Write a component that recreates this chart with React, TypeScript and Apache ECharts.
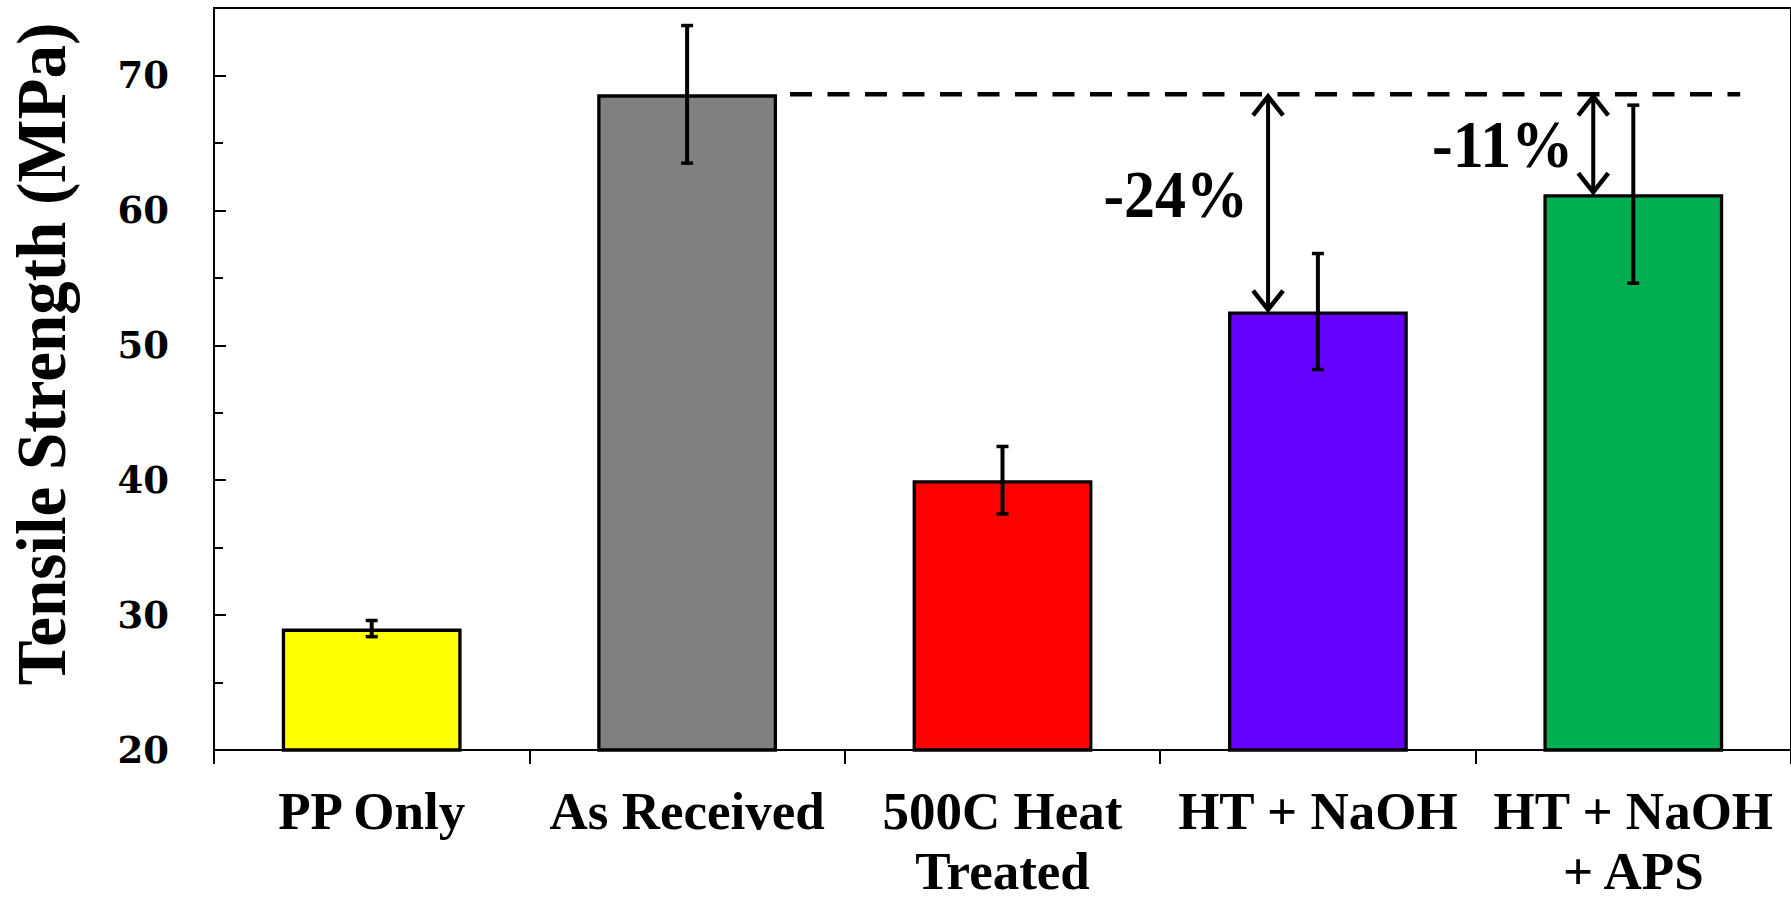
import React, { useEffect, useRef } from 'react';
import * as echarts from 'echarts';

const categories = ['PP Only', 'As Received', '500C Heat\nTreated', 'HT + NaOH', 'HT + NaOH\n+ APS'];
const strengths = [29.0, 68.6, 40.0, 52.5, 61.2];
const errors = [0.6, 5.1, 2.5, 4.3, 6.6];
const barColors = ['#FFFF00', '#808080', '#FF0000', '#6600FF', '#00B050'];
const referenceIndex = 1; // As Received
const changeCategories = [3, 4];
const changeLabels = ['-24%', '-11%'];
const yAxisTitle = 'Tensile Strength (MPa)';

const SERIF = '"Liberation Serif", "Times New Roman", serif';

export default function App() {
  const ref = useRef<HTMLDivElement>(null);
  useEffect(() => {
    if (!ref.current) return;
    document.body.style.margin = '0';
    document.body.style.overflow = 'hidden';
    const chart = echarts.init(ref.current, undefined, { renderer: 'svg', width: 1791, height: 901 });
    const refValue = strengths[referenceIndex];
    const arrowShift = [-0.158, -0.127];
    const textNudge = [-8, 0];
    const errData = strengths.map((v, i) => [i, v - errors[i], v + errors[i]]);
    const arrowData = changeCategories.map((c) => [c, refValue, strengths[c]]);

    const option: any = {
      animation: false,
      backgroundColor: '#fff',
      grid: { left: 214, top: 8, width: 1580, height: 747, show: true, borderColor: '#000', borderWidth: 2 },
      graphic: [
        {
          type: 'text', x: 42, y: 354, rotation: Math.PI / 2, scaleY: 1.03,
          style: { text: yAxisTitle, font: 'bold 67px ' + SERIF, fill: '#000', align: 'center', verticalAlign: 'middle' },
        },
      ],
      xAxis: {
        type: 'category',
        data: categories,
        axisLine: { lineStyle: { color: '#000', width: 2 } },
        axisTick: { show: true, alignWithLabel: false, length: 14, lineStyle: { color: '#000', width: 2 } },
        axisLabel: { interval: 0, margin: 31, fontFamily: SERIF, fontWeight: 'bold', fontSize: 53, lineHeight: 60, color: '#000' },
      },
      yAxis: [
        {
          type: 'value', min: 20, max: 75, interval: 10,
          axisLine: { show: true, lineStyle: { color: '#000', width: 2 } },
          axisTick: { show: true, inside: true, length: 12, lineStyle: { color: '#000', width: 2 } },
          axisLabel: { margin: 45, showMaxLabel: false, fontFamily: 'DejaVu Serif', fontWeight: 'bold', fontSize: 37, color: '#000' },
          splitLine: { show: false },
        },
        {
          type: 'value', min: 20, max: 75, interval: 5, position: 'left', offset: 0,
          axisLine: { show: false },
          axisTick: { show: true, inside: true, length: 9, lineStyle: { color: '#000', width: 2 } },
          axisLabel: { show: false },
          splitLine: { show: false },
        },
      ],
      series: [
        {
          type: 'bar',
          barWidth: '57%',
          data: strengths.map((v, i) => ({ value: v, itemStyle: { color: barColors[i] } })),
          itemStyle: { borderColor: '#000', borderWidth: 3.3 },
          z: 2,
        },
        {
          type: 'custom',
          z: 5,
          data: errData,
          encode: { x: 0, y: [1, 2] },
          renderItem: (params: any, api: any) => {
            const x = api.value(0);
            const lo = api.coord([x, api.value(1)]);
            const hi = api.coord([x, api.value(2)]);
            const cap = 6;
            const st = { stroke: '#000', lineWidth: 4 };
            const cst = { stroke: '#000', lineWidth: 3.5 };
            return {
              type: 'group',
              children: [
                { type: 'line', shape: { x1: lo[0], y1: lo[1], x2: hi[0], y2: hi[1] }, style: st },
                { type: 'line', shape: { x1: lo[0] - cap, y1: lo[1], x2: lo[0] + cap, y2: lo[1] }, style: cst },
                { type: 'line', shape: { x1: hi[0] - cap, y1: hi[1], x2: hi[0] + cap, y2: hi[1] }, style: cst },
              ],
            };
          },
        },
        {
          type: 'custom',
          z: 4,
          data: [[referenceIndex, refValue]],
          encode: { x: 0, y: 1 },
          renderItem: (params: any, api: any) => {
            const p = api.coord([api.value(0), api.value(1)]);
            const band = api.size([1, 0])[0];
            const last = api.coord([categories.length - 1, api.value(1)]);
            return {
              type: 'line',
              shape: { x1: p[0] + band * 0.285 + 13, y1: p[1], x2: last[0] + band * 0.285 + 17, y2: p[1] },
              style: { stroke: '#000', lineWidth: 4.5, lineDash: [22, 15.5] },
            };
          },
        },
        {
          type: 'custom',
          z: 6,
          data: arrowData,
          encode: { x: 0, y: [1, 2] },
          renderItem: (params: any, api: any) => {
            const i = params.dataIndex;
            const band = api.size([1, 0])[0];
            const top = api.coord([api.value(0), api.value(1)]);
            const bot = api.coord([api.value(0), api.value(2)]);
            const x = top[0] + arrowShift[i] * band;
            const st = { stroke: '#000', lineWidth: 4, fill: 'none', lineJoin: 'miter' };
            const ast = { stroke: '#000', lineWidth: 4.5, fill: 'none', lineJoin: 'miter' };
            return {
              type: 'group',
              children: [
                { type: 'line', shape: { x1: x, y1: top[1] + 2, x2: x, y2: bot[1] - 2 }, style: st },
                { type: 'polyline', shape: { points: [[x - 15, top[1] + 21], [x, top[1] + 2], [x + 15, top[1] + 21]] }, style: ast },
                { type: 'polyline', shape: { points: [[x - 15, bot[1] - 21], [x, bot[1] - 2], [x + 15, bot[1] - 21]] }, style: ast },
                {
                  type: 'text',
                  x: x - 20,
                  y: (top[1] + bot[1]) / 2 + textNudge[i],
                  scaleY: 1.08,
                  style: {
                    text: changeLabels[i], x: 0, y: 0,
                    align: 'right', verticalAlign: 'middle',
                    font: 'bold 62px ' + SERIF, fill: '#000',
                  },
                },
              ],
            };
          },
        },
      ],
    };
    chart.setOption(option);
    return () => chart.dispose();
  }, []);
  return <div ref={ref} style={{ position: 'fixed', left: 0, top: 0, width: 1791, height: 901 }} />;
}
